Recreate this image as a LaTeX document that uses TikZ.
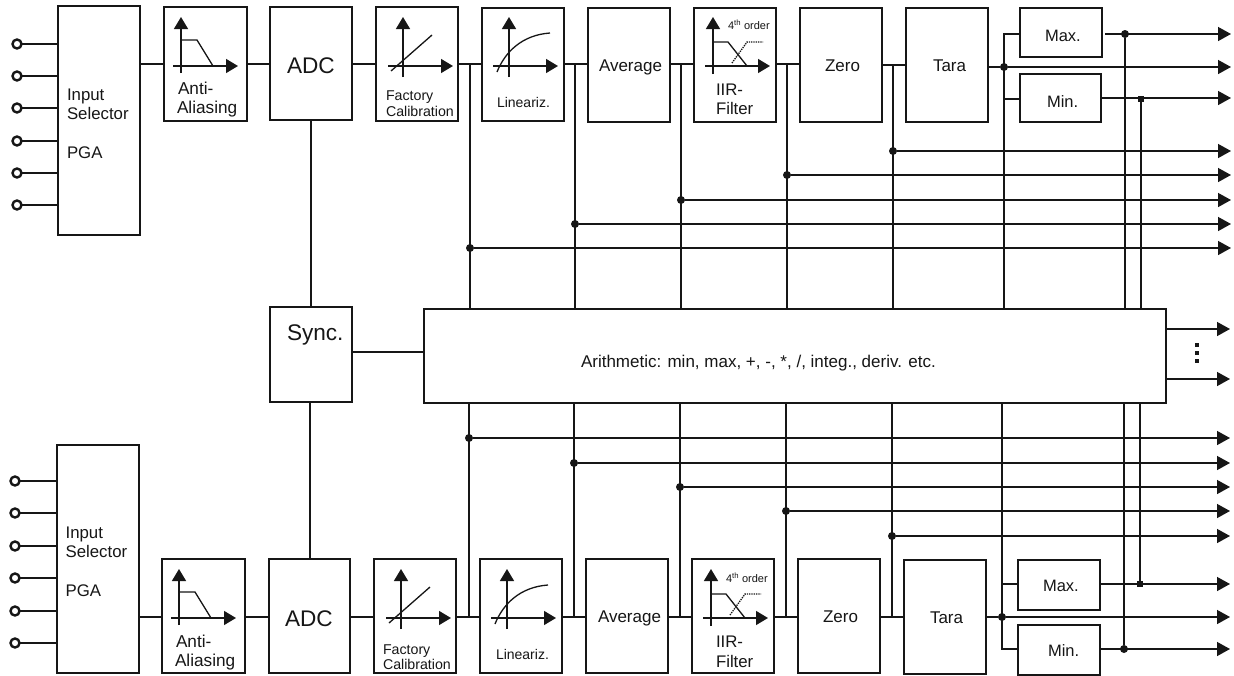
\documentclass[tikz,border=0pt]{standalone}
\usepackage{fontspec}
\setmainfont{Liberation Sans}
\usetikzlibrary{arrows.meta}
\definecolor{ink}{HTML}{161616}
\newcommand{\bx}[5]{\node[box,minimum width={(#4-#2)*1pt},minimum height={(#5-#3)*1pt}] (#1) at (#2,#3) {};}
\newcommand{\tx}[5]{\node[txt] (#1) at (#2,#3) {\fontsize{#4}{#4}\selectfont #5};}
\tikzset{
 box/.style={draw=ink,line width=1.4pt,fill=white,anchor=north west,inner sep=0pt,outer sep=0pt},
 txt/.style={anchor=base west,inner sep=0pt,outer sep=0pt,text=ink},
 wire/.style={draw=ink,line width=1.4pt},
 arr/.style={wire,-{Triangle[length=13pt,width=14pt]}},
 axis/.style={draw=ink,line width=1.4pt,-{Triangle[length=12pt,width=14pt]}},
 plain/.style={draw=ink,line width=1.3pt},
 term/.style={circle,draw=ink,line width=2.4pt,fill=white,minimum size=9pt,inner sep=0pt,outer sep=0pt},
 dot/.style={circle,fill=ink,minimum size=8pt,inner sep=0pt,outer sep=0pt},
 sq/.style={rectangle,fill=ink,minimum size=5.5pt,inner sep=0pt,outer sep=0pt},
 vd/.style={rectangle,fill=ink,minimum size=4pt,inner sep=0pt,outer sep=0pt}
}
\newcommand{\axes}[6]{% vx, hfrom, htip, bottom, hy
 \draw[axis] (#1,#4) -- (#1,17);
 \draw[axis] (#2,#5) -- (#3,#5);
}
\newcommand{\iconAA}{\axes{181}{173}{238}{73}{66}{}
 \draw[plain] (181,40) -- (197,40) -- (213,66);}
\newcommand{\iconFC}{\axes{403}{388}{453}{77}{66}{}
 \draw[plain] (391,71) -- (432,35);}
\newcommand{\iconLin}{\axes{509}{493}{558}{77}{66}{}
 \draw[plain] (497,72) .. controls (505,52) and (522,35) .. (550,33);}
\newcommand{\iconIIR}{\axes{713}{705}{770}{74}{66}{}
 \draw[plain] (713,42) -- (728,42) -- (747,66);
 \draw[plain,densely dotted] (732,63) -- (747,42) -- (763,42);}
\begin{document}
\begin{tikzpicture}[x=1pt,y=-1pt]
\useasboundingbox[fill=white] (0,0) rectangle (1234,675);
% rows and tap columns
\coordinate (st) at (0,64); \coordinate (sb) at (0,617); \coordinate (sm) at (0,352); \coordinate (sv) at (310,0);
\coordinate (t1) at (470,64);\coordinate (t2) at (575,64);\coordinate (t3) at (681,64);\coordinate (t4) at (787,64);\coordinate (t5) at (893,65);
\coordinate (b1) at (469,617);\coordinate (b2) at (574,617);\coordinate (b3) at (680,617);\coordinate (b4) at (786,617);\coordinate (b5) at (892,617);
% output ends
\coordinate (oa) at (1231,34);\coordinate (ob) at (1231,67);\coordinate (oc) at (1231,98);\coordinate (od) at (1231,151);\coordinate (oe) at (1231,175);\coordinate (of) at (1231,200);\coordinate (og) at (1231,224);\coordinate (oh) at (1231,248);
\coordinate (pa) at (1230,438);\coordinate (pb) at (1230,463);\coordinate (pc) at (1230,487);\coordinate (pd) at (1230,511);\coordinate (pe) at (1230,536);\coordinate (pf) at (1230,584);\coordinate (pg) at (1230,617);\coordinate (ph) at (1230,649);
\coordinate (qa) at (1230,329);\coordinate (qb) at (1230,379);
% boxes: top
\bx{tin}{58}{6}{140}{235}
\bx{taa}{164}{7}{247}{121}
\bx{tadc}{270}{7}{352}{120}
\bx{tfc}{376}{7}{458}{121}
\bx{tlin}{482}{8}{564}{121}
\bx{tavg}{588}{8}{670}{122}
\bx{tiir}{694}{8}{776}{122}
\bx{tzero}{800}{8}{882}{122}
\bx{ttara}{906}{8}{988}{122}
\bx{tmax}{1020}{8}{1102}{57}
\bx{tmin}{1020}{74}{1101}{122}
% boxes: middle
\bx{sync}{270}{307}{352}{402}
\bx{arith}{424}{309}{1166}{403}
% boxes: bottom
\bx{bin}{57}{445}{139}{673}
\bx{baa}{162}{559}{245}{673}
\bx{badc}{269}{559}{350}{673}
\bx{bfc}{374}{559}{456}{673}
\bx{blin}{480}{559}{562}{673}
\bx{bavg}{586}{559}{668}{673}
\bx{biir}{692}{559}{774}{673}
\bx{bzero}{798}{559}{880}{673}
\bx{btara}{904}{560}{986}{674}
\bx{bmax}{1018}{560}{1100}{610}
\bx{bmin}{1018}{625}{1100}{675}
% input terminals
\foreach \n/\y in {1/44,2/76,3/108,4/141,5/173,6/205}{
 \node[term] (ti\n) at (17,\y) {};
 \draw[wire] (ti\n) -- (tin.west |- ti\n);}
\foreach \n/\y in {1/481,2/513,3/546,4/578,5/611,6/643}{
 \node[term] (bi\n) at (15,\y) {};
 \draw[wire] (bi\n) -- (bin.west |- bi\n);}
% signal chain top
\draw[wire] (tin.east |- st) -- (taa.west |- st);
\draw[wire] (taa.east |- st) -- (tadc.west |- st);
\draw[wire] (tadc.east |- st) -- (tfc.west |- st);
\draw[wire] (tfc.east |- st) -- (tlin.west |- st);
\draw[wire] (tlin.east |- st) -- (tavg.west |- st);
\draw[wire] (tavg.east |- st) -- (tiir.west |- st);
\draw[wire] (tiir.east |- st) -- (tzero.west |- st);
\draw[wire] (tzero.east |- t5) -- (ttara.west |- t5);
% signal chain bottom
\draw[wire] (bin.east |- sb) -- (baa.west |- sb);
\draw[wire] (baa.east |- sb) -- (badc.west |- sb);
\draw[wire] (badc.east |- sb) -- (bfc.west |- sb);
\draw[wire] (bfc.east |- sb) -- (blin.west |- sb);
\draw[wire] (blin.east |- sb) -- (bavg.west |- sb);
\draw[wire] (bavg.east |- sb) -- (biir.west |- sb);
\draw[wire] (biir.east |- sb) -- (bzero.west |- sb);
\draw[wire] (bzero.east |- sb) -- (btara.west |- sb);
% sync
\draw[wire] (tadc.south) -- (sync.north -| tadc.south);
\draw[wire] (sync.south -| sv) -- (badc.north -| sv);
\draw[wire] (sync.east |- sm) -- (arith.west |- sm);
% tap columns
\foreach \n in {1,...,5}{
 \draw[wire] (t\n) -- (arith.north -| t\n);
 \draw[wire] (b\n) -- (arith.south -| b\n);}
% tap outputs top
\node[dot] (d1) at (470,248) {}; \draw[arr] (d1) -- (oh);
\node[dot] (d2) at (575,224) {}; \draw[arr] (d2) -- (og);
\node[dot] (d3) at (681,200) {}; \draw[arr] (d3) -- (of);
\node[dot] (d4) at (787,175) {}; \draw[arr] (d4) -- (oe);
\node[dot] (d5) at (893,151) {}; \draw[arr] (d5) -- (od);
% tap outputs bottom
\node[dot] (e1) at (469,438) {}; \draw[arr] (e1) -- (pa);
\node[dot] (e2) at (574,463) {}; \draw[arr] (e2) -- (pb);
\node[dot] (e3) at (680,487) {}; \draw[arr] (e3) -- (pc);
\node[dot] (e4) at (786,511) {}; \draw[arr] (e4) -- (pd);
\node[dot] (e5) at (892,536) {}; \draw[arr] (e5) -- (pe);
% tara, max, min top
\node[dot] (tj) at (1004,67) {};
\coordinate (tjm) at (1004,34); \coordinate (tjn) at (1004,99);
\draw[wire] (ttara.east |- tj) -- (tj);
\draw[arr] (tj) -- (ob);
\draw[wire] (tmax.west |- tjm) -- (tjm) -- (arith.north -| tjm);
\draw[wire] (tmin.west |- tjn) -- (tjn);
\node[dot] (ma) at (1125,34) {};
\node[sq] (mi) at (1141,99) {};
\draw[arr,shorten <=3pt] (tmax.east |- oa) -- (oa);
\draw[arr] (tmin.east |- oc) -- (oc);
\draw[wire] (ma) -- (arith.north -| ma);
\draw[wire] (mi) -- (arith.north -| mi);
% tara, max, min bottom
\node[dot] (bj) at (1002,617) {};
\coordinate (bjm) at (1002,584); \coordinate (bjn) at (1002,649);
\draw[wire] (btara.east |- bj) -- (bj);
\draw[arr] (bj) -- (pg);
\draw[wire] (arith.south -| bj) -- (bjn) -- (bmin.west |- bjn);
\draw[wire] (bjm) -- (bmax.west |- bjm);
\node[dot] (na) at (1124,649) {};
\node[sq] (ni) at (1140,584) {};
\draw[arr] (bmax.east |- pf) -- (pf);
\draw[arr] (bmin.east |- ph) -- (ph);
\draw[wire] (na) -- (arith.south -| na);
\draw[wire] (ni) -- (arith.south -| ni);
% arithmetic outputs
\draw[arr] (arith.east |- qa) -- (qa);
\draw[arr] (arith.east |- qb) -- (qb);
\node[vd] (v1) at (1197,345) {};
\node[vd] (v2) at (1197,353) {};
\node[vd] (v3) at (1197,361) {};
% icons
\iconAA \iconFC \iconLin \iconIIR
\begin{scope}[yshift=-552pt,xshift=-2pt]
\iconAA \iconFC \iconLin \iconIIR
\end{scope}
% text top
\tx{l1}{67}{100}{16.8}{Input}
\tx{l2}{67}{119.5}{16.8}{Selector}
\tx{l3}{67}{158}{16.8}{PGA}
\tx{l4}{178}{94}{17.2}{Anti-}
\tx{l5}{177}{113}{17.2}{Aliasing}
\tx{l6}{287}{73}{22.6}{ADC}
\tx{l7}{386}{100}{14.2}{Factory}
\tx{l8}{386}{116}{14.2}{Calibration}
\tx{l9}{497}{107}{14}{Lineariz.}
\tx{l10}{599}{71}{17}{Average}
\tx{l11}{716}{95}{16.8}{IIR-}
\tx{l12}{716}{114}{16.8}{Filter}
\tx{l13}{728}{29}{11}{4\textsuperscript{th} order}
\tx{l14}{825}{71}{17}{Zero}
\tx{l15}{933}{71}{17}{Tara}
\tx{l16}{1045}{41}{16.5}{Max.}
\tx{l17}{1047}{107}{16.5}{Min.}
% text middle
\tx{m1}{287}{340}{22.6}{Sync.}
\tx{m2}{581}{367}{17}{Arithmetic: min, max, +, -, *, /, integ., deriv. etc.}
% text bottom
\tx{n1}{65.6}{538}{16.8}{Input}
\tx{n2}{65.6}{557}{16.8}{Selector}
\tx{n3}{65.6}{596}{16.8}{PGA}
\tx{n4}{176}{647}{17.2}{Anti-}
\tx{n5}{175}{666}{17.2}{Aliasing}
\tx{n6}{285}{626}{22.6}{ADC}
\tx{n7}{383}{654}{14.2}{Factory}
\tx{n8}{383}{669}{14.2}{Calibration}
\tx{n9}{496}{659}{14}{Lineariz.}
\tx{n10}{598}{622}{17}{Average}
\tx{n11}{716}{647}{16.8}{IIR-}
\tx{n12}{716}{667}{16.8}{Filter}
\tx{n13}{726}{582}{11}{4\textsuperscript{th} order}
\tx{n14}{823}{622}{17}{Zero}
\tx{n15}{930}{623}{17}{Tara}
\tx{n16}{1043}{591}{16.5}{Max.}
\tx{n17}{1048}{656}{16.5}{Min.}
\end{tikzpicture}
\end{document}
